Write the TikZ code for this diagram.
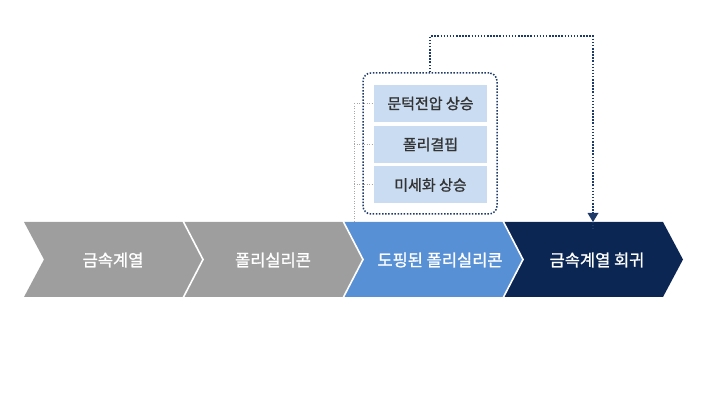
\documentclass[tikz,border=0pt]{standalone}
\usepackage{fontspec}
\setmainfont{Noto Sans CJK KR}
\newfontfamily\krmed{Noto Sans CJK KR}[FakeBold=1.3]
\usetikzlibrary{arrows.meta}
\definecolor{cgray}{HTML}{9E9E9E}
\definecolor{cblue}{HTML}{5890D6}
\definecolor{cnavy}{HTML}{0C2654}
\definecolor{cbox}{HTML}{C9DCF1}
\definecolor{cdot}{HTML}{1E3A68}
\definecolor{ctxt}{HTML}{333333}
\begin{document}
\begin{tikzpicture}[x=1pt,y=-1pt,
  ctext/.style={text=white,font=\krmed\fontsize{16.5}{18}\selectfont},
  sbox/.style={fill=cbox,minimum width=113pt,minimum height=37pt,inner sep=0pt,text=ctxt,font=\krmed\fontsize{15}{17}\selectfont},
  grpbox/.style={draw=cdot,line width=1.5pt,dash pattern=on 1.5pt off 1.6pt,rounded corners=8pt,minimum width=134pt,minimum height=141pt,inner sep=0pt},
  navydot/.style={draw=cdot,line width=1.5pt,dash pattern=on 1.5pt off 1.6pt},
  graydot/.style={draw=gray!70,line width=1pt,dash pattern=on 1pt off 1.5pt}]
\useasboundingbox (0,0) rectangle (707,411);
% chevrons
\foreach \L/\col in {24/cgray,183/cgray,343/cblue,503/cnavy}{
  \fill[\col] (\L,222) -- ({\L+160},222) -- ({\L+180},259.5) -- ({\L+160},297) -- (\L,297) -- ({\L+20},259.5) -- cycle;
}
\foreach \L in {183,343,503}{
  \draw[white,line width=1.6pt] (\L,221) -- ({\L+20},259.5) -- (\L,298);
}
\node[ctext] (c1) at (113,260) {금속계열};
\node[ctext] (c2) at (273,260) {폴리실리콘};
\node[ctext] (c3) at (440,260) {도핑된 폴리실리콘};
\node[ctext] (c4) at (597,260) {금속계열 회귀};
\coordinate (t4) at (593,222);
\coordinate (g0) at (354,222);
% group
\node[grpbox] (grp) at (430,143.5) {};
\node[sbox] (b1) at (430.5,103.5) {문턱전압 상승};
\node[sbox] (b2) at (430.5,144.5) {폴리결핍};
\node[sbox] (b3) at (430.5,185) {미세화 상승};
% gray dotted lines
\draw[graydot] (b1.west -| g0) -- (g0);
\draw[graydot] (b1.west -| g0) -- (b1.west);
\draw[graydot] (b2.west -| g0) -- (b2.west);
\draw[graydot] (b3.west -| g0) -- (b3.west);
% feedback connector
\draw[navydot] (grp.north) -- ++(0,-36) coordinate (k1) -| ([yshift=-8pt]t4);
\fill[cdot] (t4) -- ++(-5.5,-9) -- ++(11,0) -- cycle;
\end{tikzpicture}
\end{document}
